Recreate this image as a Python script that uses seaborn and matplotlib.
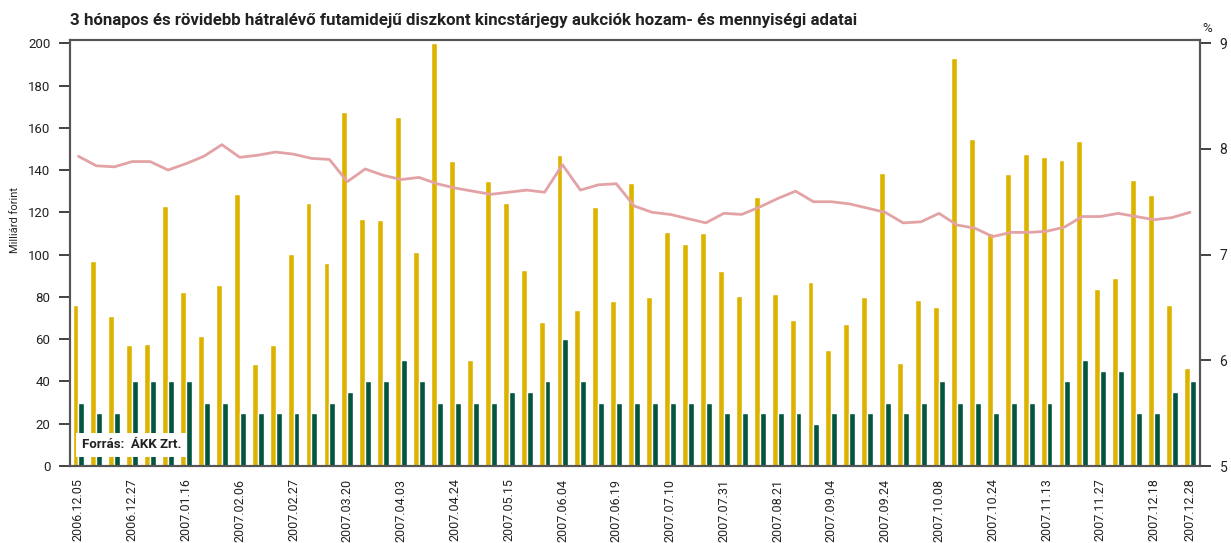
import pandas as pd
import seaborn as sns
import matplotlib.pyplot as plt

# 3 honapos diszkont kincstarjegy aukciok
offered = [76.2, 97.0, 71.0, 57.3, 57.7, 123.0, 82.3, 61.5, 85.6, 128.7,
           48.3, 57.3, 100.3, 124.4, 96.1, 167.5, 116.9, 116.4, 165.1, 101.3,
           200.0, 144.3, 50.2, 134.9, 124.4, 92.7, 68.1, 147.2, 73.8, 122.6,
           78.1, 133.9, 80.0, 110.7, 105.0, 110.3, 92.3, 80.4, 127.3, 81.4,
           69.1, 87.1, 54.9, 67.2, 80.0, 138.6, 48.7, 78.5, 75.2, 193.1,
           154.7, 110.3, 138.2, 147.6, 146.2, 144.8, 153.8, 83.8, 89.0, 135.3,
           128.2, 76.2, 46.4]
accepted = [30, 25, 25, 40, 40, 40, 40, 30, 30, 25,
            25, 25, 25, 25, 30, 35, 40, 40, 50, 40,
            30, 30, 30, 30, 35, 35, 40, 60, 40, 30,
            30, 30, 30, 30, 30, 30, 25, 25, 25, 25,
            25, 20, 25, 25, 25, 30, 25, 30, 40, 30,
            30, 25, 30, 30, 30, 40, 50, 45, 45, 25,
            25, 35, 40]
yield_pct = [7.93, 7.84, 7.83, 7.88, 7.88, 7.80, 7.86, 7.93, 8.04, 7.92,
             7.94, 7.97, 7.95, 7.91, 7.90, 7.69, 7.81, 7.75, 7.71, 7.73,
             7.67, 7.63, 7.60, 7.57, 7.59, 7.61, 7.59, 7.85, 7.61, 7.66,
             7.67, 7.46, 7.40, 7.38, 7.34, 7.30, 7.39, 7.38, 7.45, 7.53,
             7.60, 7.50, 7.50, 7.48, 7.44, 7.40, 7.30, 7.31, 7.39, 7.28,
             7.25, 7.17, 7.21, 7.21, 7.22, 7.26, 7.36, 7.36, 7.39, 7.36,
             7.33, 7.35, 7.40]
tick_dates = ["2006.12.05", "2006.12.27", "2007.01.16", "2007.02.06", "2007.02.27",
              "2007.03.20", "2007.04.03", "2007.04.24", "2007.05.15", "2007.06.04",
              "2007.06.19", "2007.07.10", "2007.07.31", "2007.08.21", "2007.09.04",
              "2007.09.24", "2007.10.08", "2007.10.24", "2007.11.13", "2007.11.27",
              "2007.12.18", "2007.12.28"]

sns.set_style("ticks")
plt.rcParams['font.family'] = ['Roboto', 'DejaVu Sans']

n = len(offered)
df = pd.DataFrame({
    "idx": list(range(n)) * 2,
    "amount": offered + accepted,
    "series": ["Benyújtott"] * n + ["Elfogadott"] * n,
})

W, H = 1231, 543
fig = plt.figure(figsize=(W / 100, H / 100), dpi=100)
ax = fig.add_axes([70 / W, 1 - 466 / H, 1130 / W, 426 / H])

sns.barplot(data=df, x="idx", y="amount", hue="series",
            palette=["#DDB300", "#02553F"], saturation=1,
            width=0.66, gap=0, legend=False, ax=ax)
ax.set_xlim(-0.47, n - 1 + 0.56)
ax.set_ylim(0, 201.6)
ax.set_yticks(range(0, 201, 20))
ax.set_xlabel("")
ax.set_ylabel("")

ticks = list(range(0, 61, 3)) + [n - 1]
ax.set_xticks(ticks)
ax.set_xticklabels(tick_dates, rotation=90, fontsize=9, color="#222222")
ax.tick_params(axis="x", length=0, pad=9)
ax.tick_params(axis="y", direction="out", length=8, width=1.2, pad=6,
               labelsize=9.5, colors="#222222")

ax2 = ax.twinx()
sns.lineplot(x=list(range(n)), y=yield_pct, ax=ax2, color="#E3A3A6", linewidth=2)
ax2.set_ylim(5, 9.03)
ax2.set_yticks([5, 6, 7, 8, 9])
ax2.tick_params(axis="y", direction="out", length=8, width=1.2, pad=6,
                labelsize=10, colors="#222222")

for a in (ax, ax2):
    for s in a.spines.values():
        s.set_visible(True)
        s.set_color("#555555")
        s.set_linewidth(1.5)

fig.text(70 / W, 1 - 20 / H,
         "3 hónapos és rövidebb hátralévő futamidejű diszkont kincstárjegy aukciók hozam- és mennyiségi adatai",
         fontsize=12.2, fontweight="bold", va="center", ha="left", color="#222222")
fig.text(15 / W, 1 - 220 / H, "Milliárd forint", rotation=90, fontsize=8,
         va="center", ha="center", color="#222222")
fig.text(1207 / W, 1 - 28 / H, "%", fontsize=9.5, va="center", ha="center", color="#222222")
fig.text(82 / W, 1 - 445 / H, "Forrás:  ÁKK Zrt.", fontsize=9.5, fontweight="bold",
         va="center", ha="left", color="#222222",
         bbox=dict(facecolor="white", edgecolor="none", pad=4))

fig.savefig("out.png", dpi=100)
